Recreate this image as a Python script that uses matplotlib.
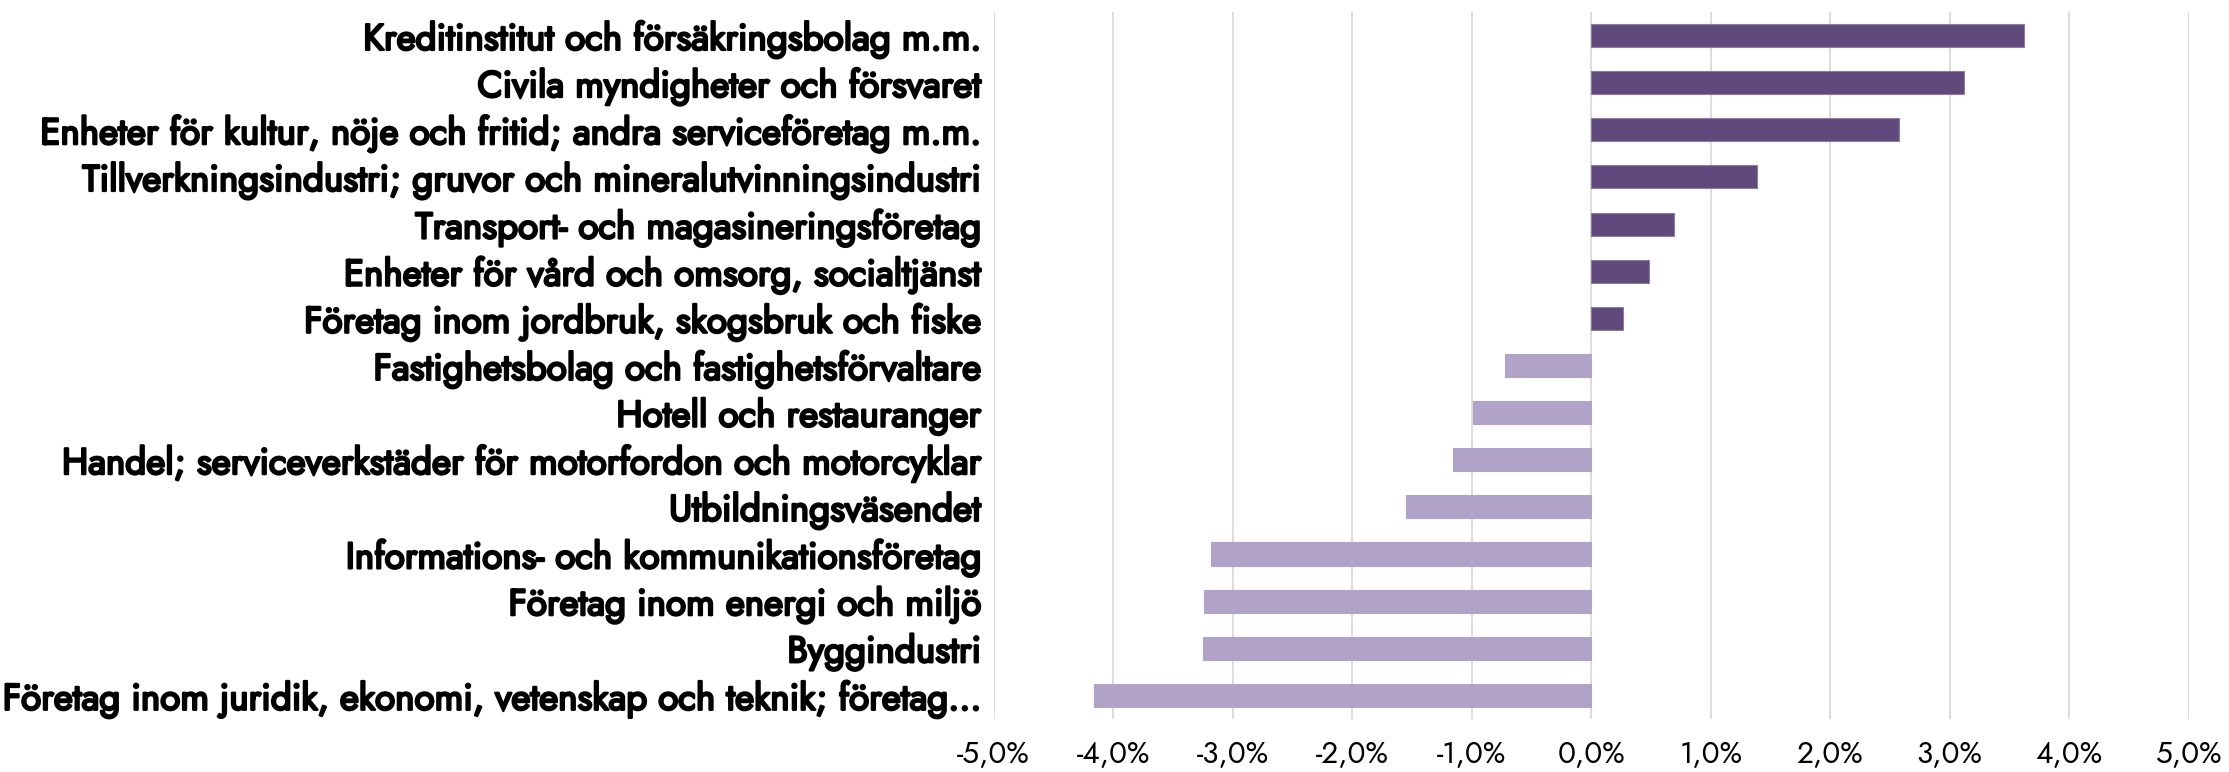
import numpy as np
import matplotlib
matplotlib.use("Agg")
import matplotlib.pyplot as plt
import matplotlib.patheffects as pe
from matplotlib.ticker import FuncFormatter, MultipleLocator

# categories, top to bottom as in the chart
categories = [
    "Kreditinstitut och försäkringsbolag m.m.",
    "Civila myndigheter och försvaret",
    "Enheter för kultur, nöje och fritid; andra serviceföretag m.m.",
    "Tillverkningsindustri; gruvor och mineralutvinningsindustri",
    "Transport- och magasineringsföretag",
    "Enheter för vård och omsorg, socialtjänst",
    "Företag inom jordbruk, skogsbruk och fiske",
    "Fastighetsbolag och fastighetsförvaltare",
    "Hotell och restauranger",
    "Handel; serviceverkstäder för motorfordon och motorcyklar",
    "Utbildningsväsendet",
    "Informations- och kommunikationsföretag",
    "Företag inom energi och miljö",
    "Byggindustri",
    "Företag inom juridik, ekonomi, vetenskap och teknik; företag...",
]

# change in percent
values = [3.62, 3.12, 2.58, 1.39, 0.69, 0.48, 0.27,
          -0.72, -0.99, -1.16, -1.55, -3.18, -3.24, -3.25, -4.16]

pos_color = "#604A7B"
neg_color = "#B1A2C8"

# Jost only ships as a variable font here (regular weight), so the bold
# look of the category labels is faked with a thin stroke
fonts = ["Jost", "Liberation Sans", "DejaVu Sans"]
bold_fx = [pe.withStroke(linewidth=1.7, foreground="black")]

fig = plt.figure(figsize=(22.29, 7.72), dpi=100)
ax = fig.add_axes([0.4458, 0.0687, 0.5361, 0.9158])

y = np.arange(len(categories))
colors = [pos_color if v >= 0 else neg_color for v in values]
edges = ["#8C7CA3" if v >= 0 else neg_color for v in values]
ax.barh(y, values, height=0.49, color=colors, edgecolor=edges, linewidth=0.8, zorder=3)

ax.set_xlim(-5, 5)
ax.set_ylim(len(categories) - 0.5, -0.5)
ax.xaxis.set_major_locator(MultipleLocator(1))
ax.xaxis.set_major_formatter(FuncFormatter(lambda v, p: f"{v:.1f}%".replace(".", ",")))
ax.grid(axis="x", color="#D9D9D9", linewidth=1.3, zorder=0)

ax.set_yticks(y)
ax.set_yticklabels(categories, fontsize=26.5, family=fonts)
for lbl in ax.get_yticklabels():
    lbl.set_path_effects(bold_fx)
for lbl in ax.get_xticklabels():
    lbl.set_family(fonts)
    lbl.set_fontsize(21.5)

ax.tick_params(axis="y", length=0, pad=9)
ax.tick_params(axis="x", length=0, pad=15)
for s in ax.spines.values():
    s.set_visible(False)

fig.savefig("out.png", dpi=100)
